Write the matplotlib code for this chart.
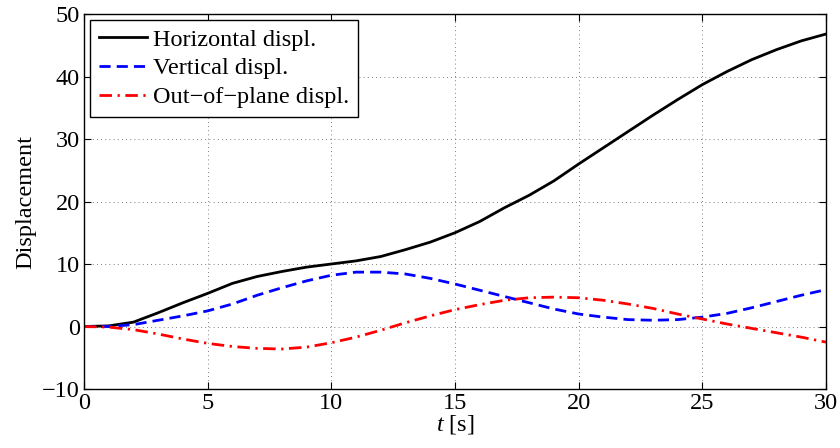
import numpy as np
import matplotlib
matplotlib.use("Agg")
import matplotlib.pyplot as plt

plt.rcParams['font.family'] = ['Liberation Serif', 'DejaVu Serif']
plt.rcParams['mathtext.fontset'] = 'custom'
plt.rcParams['mathtext.it'] = 'Liberation Serif:italic'
plt.rcParams['mathtext.rm'] = 'Liberation Serif'

# Data (one sample per second)
t = np.arange(0, 31)
horizontal = [0, 0.1, 0.7, 2.2, 3.8, 5.3, 6.9, 8.0, 8.8, 9.5, 10.0, 10.5, 11.2, 12.3, 13.5,
              15.0, 16.8, 19.0, 21.0, 23.3, 26.0, 28.6, 31.2, 33.8, 36.3, 38.7, 40.8,
              42.7, 44.3, 45.7, 46.8]
vertical = [0, 0, 0.3, 1.0, 1.7, 2.5, 3.6, 5.0, 6.2, 7.3, 8.2, 8.7, 8.7, 8.4, 7.7, 6.8,
            5.8, 4.8, 3.8, 2.8, 2.0, 1.5, 1.1, 1.0, 1.1, 1.5, 2.1, 3.0, 4.0, 5.0, 5.9]
out_of_plane = [0, -0.1, -0.5, -1.2, -2.0, -2.7, -3.2, -3.5, -3.6, -3.3, -2.6, -1.7,
                -0.6, 0.6, 1.7, 2.7, 3.5, 4.2, 4.6, 4.7, 4.6, 4.2, 3.6, 2.9, 2.0, 1.2,
                0.4, -0.3, -1.0, -1.7, -2.5]
labels = ["Horizontal displ.", "Vertical displ.", "Out\u2212of\u2212plane displ."]

fig = plt.figure(figsize=(8.4, 4.48), dpi=100)
ax = fig.add_axes([0.1, 0.1317, 0.8833, 0.837])

ax.plot(t, horizontal, color='black', lw=2.0, label=labels[0])
ax.plot(t, vertical, color='blue', lw=2.0, dashes=(4, 2.2), label=labels[1])
ax.plot(t, out_of_plane, color='red', lw=2.0, dashes=(4.5, 2, 0.8, 2), label=labels[2])

ax.set_xlim(0, 30)
ax.set_ylim(-10, 50)
ax.set_xticks(range(0, 31, 5))
ax.set_yticks(range(-10, 51, 10))
ax.grid(True, linestyle=(0, (1, 4)), color='#555555', lw=0.6)
ax.tick_params(direction='in', top=True, right=True, labelsize=17.5, length=5, pad=3)
for s in ax.spines.values():
    s.set_linewidth(1.0)

ax.set_xlabel(r"$t$ [s]", fontsize=17.5, labelpad=-1)
ax.set_ylabel("Displacement", fontsize=17.5, labelpad=4)

leg = ax.legend(loc='upper left', fontsize=17.5, fancybox=False, framealpha=1,
                edgecolor='black', borderpad=0.35, labelspacing=0.28,
                handlelength=2.0, handletextpad=0.25, borderaxespad=0.25)
leg.get_frame().set_linewidth(1.0)

fig.savefig("out.png", dpi=100)
